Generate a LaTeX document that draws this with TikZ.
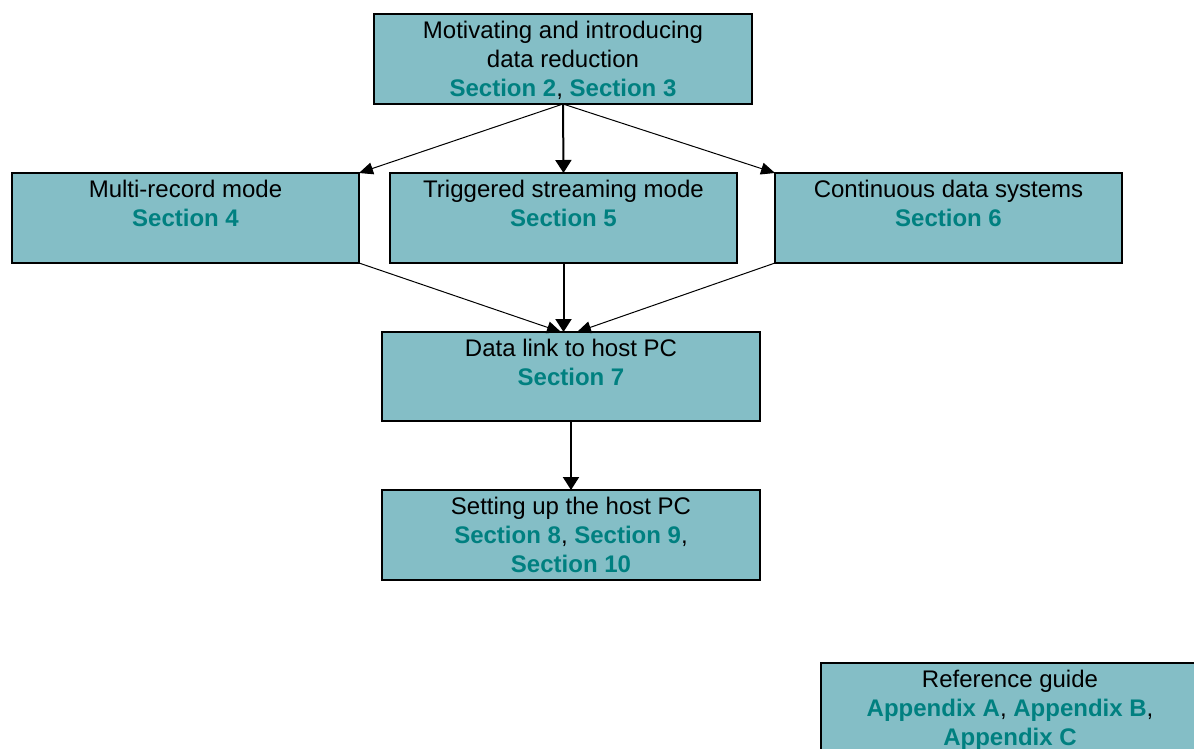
\documentclass[tikz,border=0pt]{standalone}
\usepackage{fontspec}
\setmainfont{Liberation Sans}
\usetikzlibrary{arrows.meta,calc}
\definecolor{boxfill}{RGB}{132,190,198}
\definecolor{seclink}{RGB}{0,128,128}
\newcommand{\seclnk}[1]{\textcolor{seclink}{\bfseries #1}}
\newcommand{\firstline}{\rule{0pt}{18pt}}
\begin{document}
\begin{tikzpicture}[x=1pt,y=-1pt,
  box/.style={draw=black, line width=2pt, fill=boxfill, outer sep=0pt,
    inner sep=0pt, anchor=north west, minimum height=90pt},
  wide/.style={minimum width=378pt},
  narrow/.style={minimum width=347pt},
  boxtext/.style={anchor=north, inner sep=0pt, align=center,
    font=\fontsize{24}{29}\selectfont},
  linkarrow/.style={line width=1pt, -{Triangle[length=14pt,width=12pt]}},
  mainarrow/.style={line width=2pt, -{Triangle[length=13pt,width=16pt]}}]
\useasboundingbox (0,0) rectangle (1194,749);
\clip (0,0) rectangle (1194,749);

% boxes
\node[box, wide]   (top)   at (374,14)  {};
\node[box, narrow] (multi) at (12,173)  {};
\node[box, narrow] (trig)  at (390,173) {};
\node[box, narrow] (cont)  at (775,173) {};
\node[box, wide, minimum height=89pt] (link) at (382,332) {};
\node[box, wide]   (setup) at (382,490) {};
\node[box, wide]   (ref)   at (821,663) {};

% box captions
\node[boxtext] (topT)   at ($(top.north)+(0,6)$)
  {\firstline Motivating and introducing\\data reduction\\\seclnk{Section 2}, \seclnk{Section 3}};
\node[boxtext] (multiT) at ($(multi.north)+(0,6)$)
  {\firstline Multi-record mode\\\seclnk{Section 4}};
\node[boxtext] (trigT)  at ($(trig.north)+(0,6)$)
  {\firstline Triggered streaming mode\\\seclnk{Section 5}};
\node[boxtext] (contT)  at ($(cont.north)+(0,6)$)
  {\firstline Continuous data systems\\\seclnk{Section 6}};
\node[boxtext] (linkT)  at ($(link.north)+(0,6)$)
  {\firstline Data link to host PC\\\seclnk{Section 7}};
\node[boxtext] (setupT) at ($(setup.north)+(0,6)$)
  {\firstline Setting up the host PC\\\seclnk{Section 8}, \seclnk{Section 9},\\\seclnk{Section 10}};
\node[boxtext] (refT)   at ($(ref.north)+(0,6)$)
  {\firstline Reference guide\\\seclnk{Appendix A}, \seclnk{Appendix B},\\\seclnk{Appendix C}};

% connectors
\draw[linkarrow] (top.south) -- (multi.north east);
\draw[mainarrow] (top.south) -- (trig.north);
\draw[linkarrow] (top.south) -- (cont.north west);
\draw[linkarrow] (multi.south east) -- ($(link.north)+(-10,0)$);
\draw[mainarrow] (trig.south) -- (trig.south |- link.north);
\draw[linkarrow] (cont.south west) -- ($(link.north)+(6,0)$);
\draw[mainarrow] (link.south) -- (setup.north);
\end{tikzpicture}
\end{document}
